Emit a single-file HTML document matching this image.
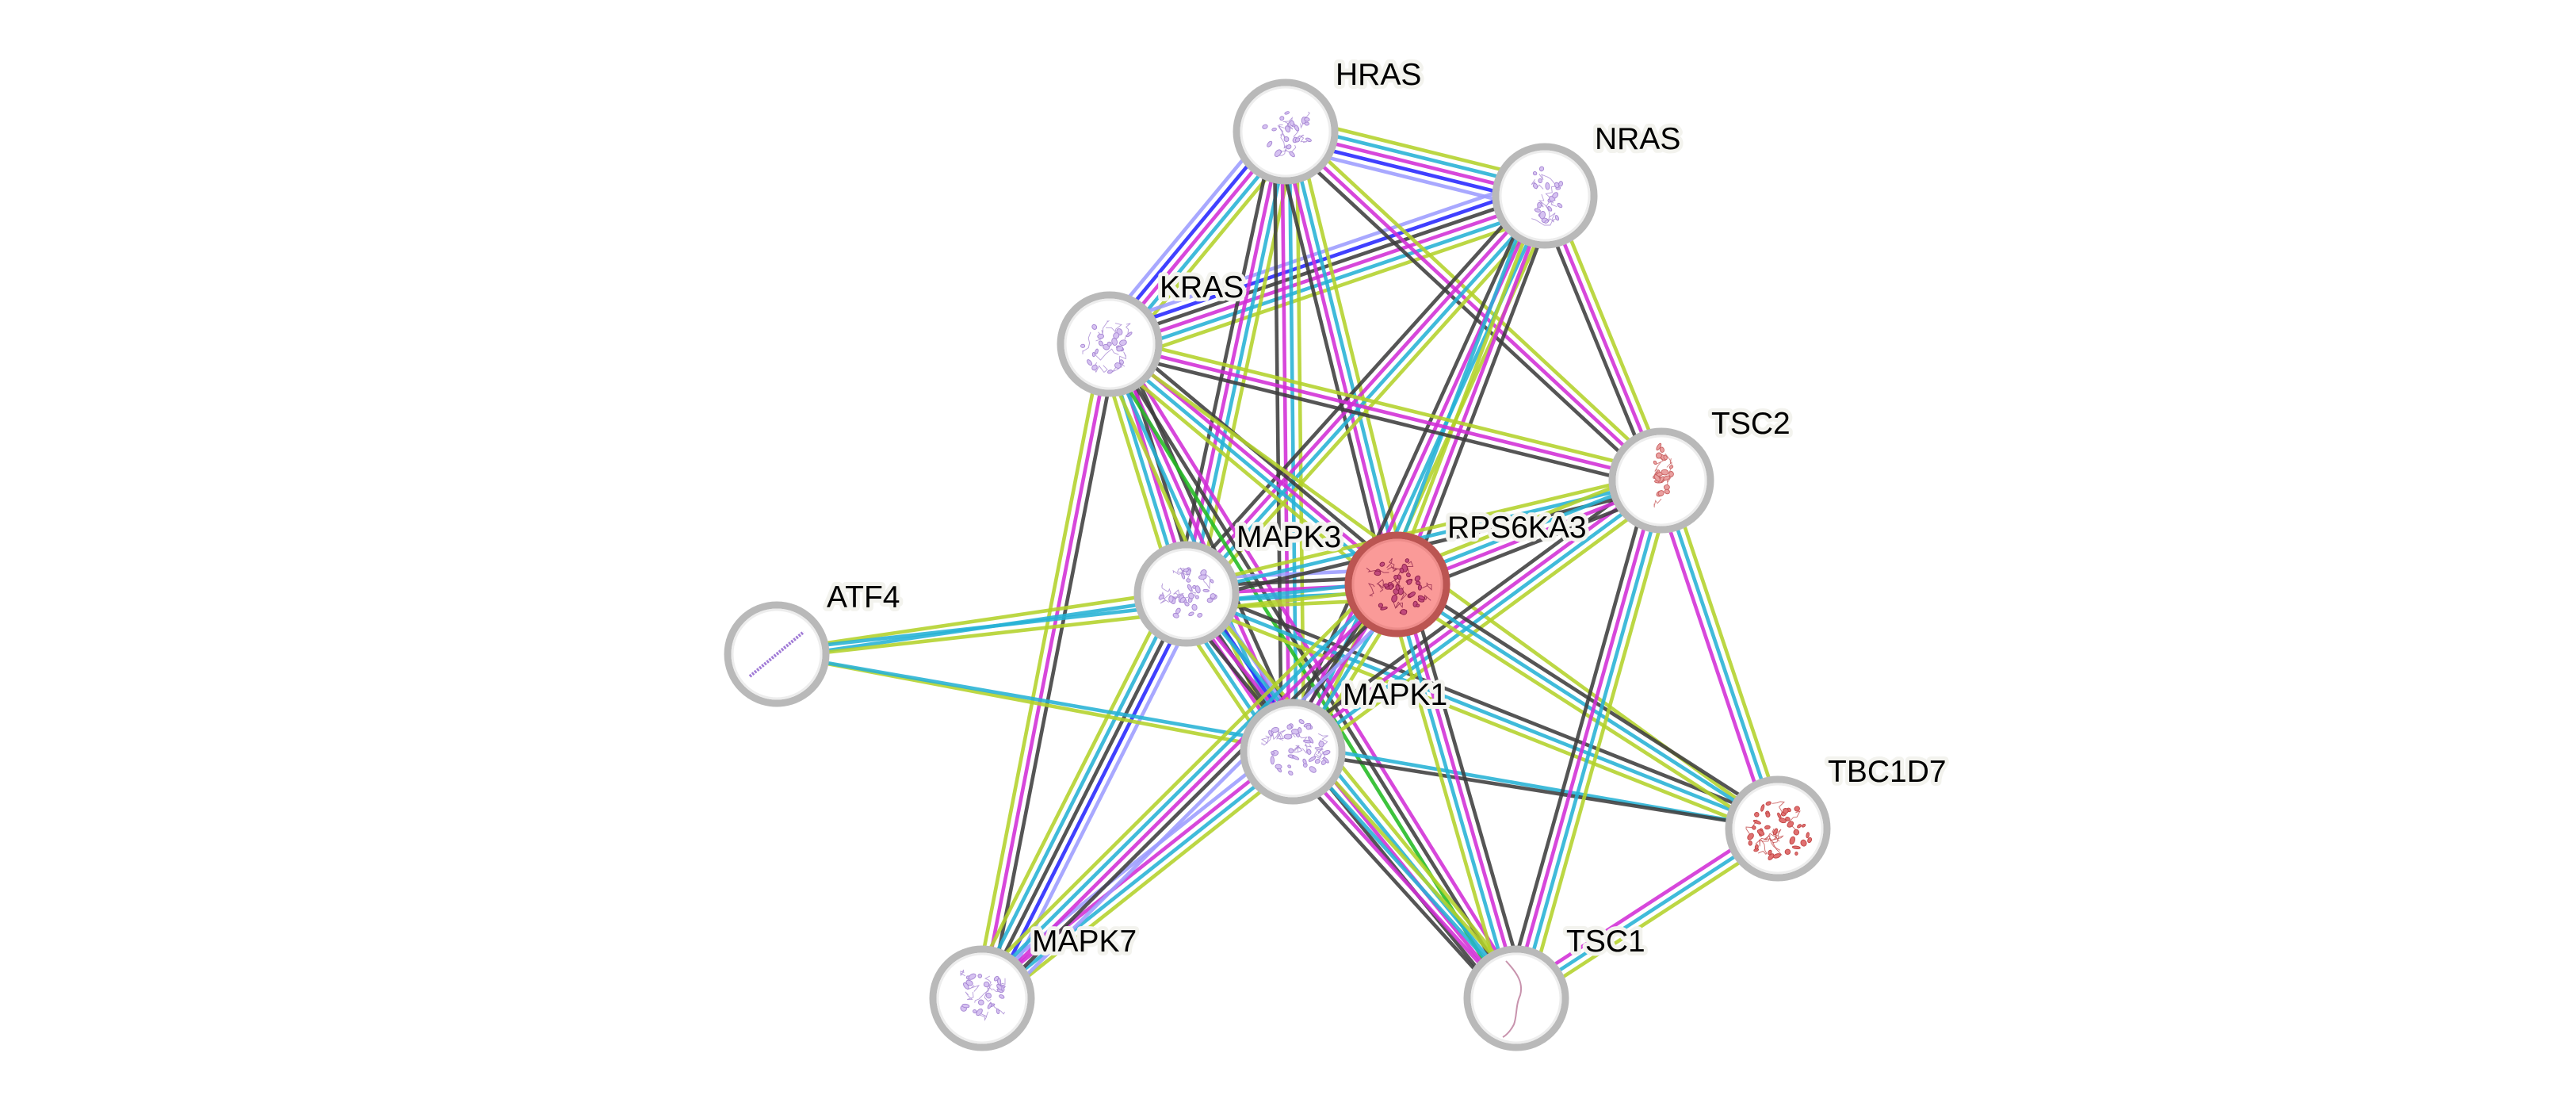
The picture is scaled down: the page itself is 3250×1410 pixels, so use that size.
<!DOCTYPE html>
<html>
<head>
<meta charset="utf-8">
<style>
html,body{margin:0;padding:0;background:#fff;}
svg{display:block;}
#labels text{font-family:"Liberation Sans",Arial,sans-serif;font-size:39px;fill:#000;paint-order:stroke;stroke:#f3f3ee;stroke-width:10px;stroke-linejoin:round;}
</style>
</head>
<body>
<svg id="s" width="3250" height="1410" viewBox="0 0 3250 1410" xmlns="http://www.w3.org/2000/svg">
<rect width="3250" height="1410" fill="#ffffff"/>
<g id="edges"></g>
<g id="nodes">
  <circle cx="1622" cy="166" r="62" fill="#fff" stroke="#b9b9b9" stroke-width="9"/>
  <circle cx="1622" cy="166" r="56" fill="none" stroke="#ededed" stroke-width="3"/>
  <circle cx="1949" cy="247" r="62" fill="#fff" stroke="#b9b9b9" stroke-width="9"/>
  <circle cx="1949" cy="247" r="56" fill="none" stroke="#ededed" stroke-width="3"/>
  <circle cx="1400" cy="434" r="62" fill="#fff" stroke="#b9b9b9" stroke-width="9"/>
  <circle cx="1400" cy="434" r="56" fill="none" stroke="#ededed" stroke-width="3"/>
  <circle cx="2096" cy="606" r="62" fill="#fff" stroke="#b9b9b9" stroke-width="9"/>
  <circle cx="2096" cy="606" r="56" fill="none" stroke="#ededed" stroke-width="3"/>
  <circle cx="1763" cy="737" r="62" fill="#fa9a98" stroke="#bb5552" stroke-width="9"/>
  <circle cx="1763" cy="737" r="56" fill="none" stroke="#ee8d8b" stroke-width="3"/>
  <circle cx="1497" cy="749" r="62" fill="#fff" stroke="#b9b9b9" stroke-width="9"/>
  <circle cx="1497" cy="749" r="56" fill="none" stroke="#ededed" stroke-width="3"/>
  <circle cx="980" cy="825" r="62" fill="#fff" stroke="#b9b9b9" stroke-width="9"/>
  <circle cx="980" cy="825" r="56" fill="none" stroke="#ededed" stroke-width="3"/>
  <circle cx="1631" cy="948" r="62" fill="#fff" stroke="#b9b9b9" stroke-width="9"/>
  <circle cx="1631" cy="948" r="56" fill="none" stroke="#ededed" stroke-width="3"/>
  <circle cx="2243" cy="1045" r="62" fill="#fff" stroke="#b9b9b9" stroke-width="9"/>
  <circle cx="2243" cy="1045" r="56" fill="none" stroke="#ededed" stroke-width="3"/>
  <circle cx="1239" cy="1259" r="62" fill="#fff" stroke="#b9b9b9" stroke-width="9"/>
  <circle cx="1239" cy="1259" r="56" fill="none" stroke="#ededed" stroke-width="3"/>
  <circle cx="1913" cy="1259" r="62" fill="#fff" stroke="#b9b9b9" stroke-width="9"/>
  <circle cx="1913" cy="1259" r="56" fill="none" stroke="#ededed" stroke-width="3"/>
</g>
<g id="icons">
  <path d="M1900,1212 C1915,1228 1922,1240 1918,1255 C1912,1268 1914,1282 1910,1292 C1906,1300 1900,1306 1896,1308" fill="none" stroke="#c893ad" stroke-width="2"/>
  <line x1="946" y1="853" x2="1014" y2="797" stroke="#a07ad6" stroke-width="4" stroke-dasharray="2.5 1.5"/>
</g>
<g id="labels">
  <text x="1685" y="107">HRAS</text>
  <text x="2012" y="188">NRAS</text>
  <text x="1463" y="375">KRAS</text>
  <text x="2159" y="547">TSC2</text>
  <text x="1826" y="678">RPS6KA3</text>
  <text x="1560" y="690">MAPK3</text>
  <text x="1043" y="766">ATF4</text>
  <text x="1694" y="889">MAPK1</text>
  <text x="2306" y="986">TBC1D7</text>
  <text x="1302" y="1200">MAPK7</text>
  <text x="1976" y="1200">TSC1</text>
</g>
</svg>
<script>
(function(){
var NS="http://www.w3.org/2000/svg";
var N={HRAS:[1622,166],NRAS:[1949,247],KRAS:[1400,434],TSC2:[2096,606],RPS6KA3:[1763,737],
MAPK3:[1497,749],ATF4:[980,825],MAPK1:[1631,948],TBC1D7:[2243,1045],MAPK7:[1239,1259],TSC1:[1913,1259]};
var col={Y:'#b3d12a',C:'#26b2d5',M:'#d12ed6',K:'#3d3d3d',B:'#2626ff',L:'#9c9cff',G:'#22bb22'};
var E=[
['HRAS','NRAS','YCMBL'],
['HRAS','KRAS','YCMBL'],
['NRAS','KRAS','YCMKBL'],
['HRAS','MAPK3','YCMK'],
['HRAS','MAPK1','YCMK'],
['HRAS','RPS6KA3','YCMK'],
['HRAS','TSC2','YMK'],
['NRAS','TSC2','YMK'],
['NRAS','MAPK3','YCMK'],
['NRAS','MAPK1','YCMK'],
['NRAS','RPS6KA3','KMYC'],
['KRAS','MAPK7','KMY'],
['KRAS','MAPK3','KMCY'],
['KRAS','MAPK1','KMCY'],
['KRAS','TSC1','MKG'],
['KRAS','RPS6KA3','KMCY'],
['KRAS','TSC2','YMK'],
['KRAS','TBC1D7','Y'],
['MAPK3','RPS6KA3','LKMCY'],
['MAPK3','MAPK1','LBKMCY'],
['MAPK3','MAPK7','LBKCY'],
['MAPK3','TSC1','YCMK'],
['MAPK3','TSC2','YCK'],
['MAPK3','TBC1D7','KCY'],
['ATF4','MAPK3','YC'],
['ATF4','RPS6KA3','CY'],
['ATF4','MAPK1','Y'],
['ATF4','TBC1D7','C'],
['MAPK1','RPS6KA3','KMCY'],
['MAPK1','TSC2','KMCY'],
['MAPK1','TSC1','YCMK'],
['MAPK1','TBC1D7','K'],
['MAPK1','MAPK7','YCML'],
['RPS6KA3','TSC2','YCMK'],
['RPS6KA3','TSC1','KMCY'],
['RPS6KA3','TBC1D7','KCY'],
['RPS6KA3','MAPK7','LKMCY'],
['TSC2','TSC1','YCMK'],
['TSC2','TBC1D7','YCM'],
['TSC1','TBC1D7','MCY']
];
var g=document.getElementById('edges');
var sp=9.5;
E.forEach(function(e){
  var a=N[e[0]],b=N[e[1]],s=e[2];
  var dx=b[0]-a[0],dy=b[1]-a[1],L=Math.sqrt(dx*dx+dy*dy);
  var px=-dy/L,py=dx/L,n=s.length;
  for(var i=0;i<n;i++){
    var o=(i-(n-1)/2)*sp;
    var l=document.createElementNS(NS,'line');
    l.setAttribute('x1',(a[0]+px*o).toFixed(1));
    l.setAttribute('y1',(a[1]+py*o).toFixed(1));
    l.setAttribute('x2',(b[0]+px*o).toFixed(1));
    l.setAttribute('y2',(b[1]+py*o).toFixed(1));
    l.setAttribute('stroke',col[s[i]]);
    l.setAttribute('stroke-width','4.6');
    l.setAttribute('stroke-opacity','0.88');
    g.appendChild(l);
  }
});
/* protein structure icons */
var seed=12345;
function r(){seed=(seed*1103515245+12345)%2147483648;return seed/2147483648;}
var ig=document.getElementById('icons');
function cluster(cx,cy,w,h,n,fill,stroke,nl){
  for(var j=0;j<nl;j++){
    var x0=cx+(r()-0.5)*w*0.8,y0=cy+(r()-0.5)*h*0.8,d='M'+x0.toFixed(1)+','+y0.toFixed(1);
    for(var t=0;t<6;t++){
      x0+= (r()-0.5)*16; y0+=(r()-0.5)*16;
      x0=Math.max(cx-w/2,Math.min(cx+w/2,x0)); y0=Math.max(cy-h/2,Math.min(cy+h/2,y0));
      d+=' L'+x0.toFixed(1)+','+y0.toFixed(1);
    }
    var p=document.createElementNS(NS,'path');
    p.setAttribute('d',d);p.setAttribute('fill','none');p.setAttribute('stroke',stroke);p.setAttribute('stroke-width','0.9');
    p.setAttribute('stroke-opacity','0.8');
    ig.appendChild(p);
  }
  for(var i=0;i<n;i++){
    var x,y,k=0;
    do{x=(r()-0.5)*w;y=(r()-0.5)*h;k++;}while((x*x/(w*w/4)+y*y/(h*h/4))>1&&k<20);
    var el=document.createElementNS(NS,'ellipse');
    var ang=(r()*180).toFixed(0);
    el.setAttribute('cx',0);el.setAttribute('cy',0);
    el.setAttribute('rx',(2+r()*3).toFixed(1));
    el.setAttribute('ry',(1.5+r()*2).toFixed(1));
    el.setAttribute('transform','translate('+(cx+x).toFixed(1)+','+(cy+y).toFixed(1)+') rotate('+ang+')');
    el.setAttribute('fill',fill);el.setAttribute('stroke',stroke);el.setAttribute('stroke-width','0.9');
    ig.appendChild(el);
  }
}
var pf='#d6c2f1',ps='#a585d2';
cluster(1625,165,62,62,20,pf,ps,9);
cluster(1950,248,56,72,20,pf,ps,9);
cluster(1398,438,64,66,20,pf,ps,9);
cluster(1499,747,70,66,30,pf,ps,10);
cluster(1636,946,88,74,34,pf,ps,12);
cluster(1240,1258,56,70,22,pf,ps,9);
cluster(1765,740,82,72,32,'#c24a7c','#8c1f48',12);
cluster(2245,1047,84,72,36,'#e07070','#c04444',10);
cluster(2098,598,22,84,22,'#eaa0a0','#c86060',5);
})();
</script>
</body>
</html>
